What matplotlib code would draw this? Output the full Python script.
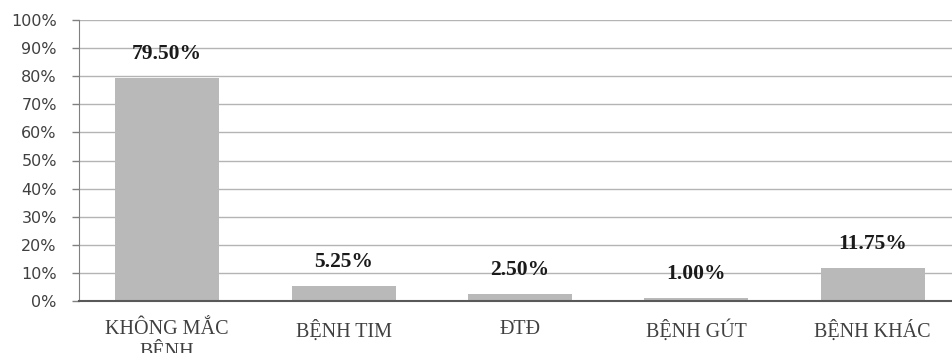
import numpy as np
import matplotlib.pyplot as plt
from matplotlib.ticker import PercentFormatter

categories = ["KHÔNG MẮC\nBỆNH", "BỆNH TIM", "ĐTĐ", "BỆNH GÚT", "BỆNH KHÁC"]
values = [79.50, 5.25, 2.50, 1.00, 11.75]
y_ticks = np.arange(0, 101, 10)

fig = plt.figure(figsize=(9.52, 3.53), dpi=100)
# axes runs a little past the right edge, like the source
ax = fig.add_axes([79 / 952, 1 - 301 / 353, 882 / 952, 281 / 353])

x = np.arange(len(categories))
ax.bar(x, values, width=0.59, color="#b9b9b9", zorder=2)

for xi, v in zip(x, values):
    ax.annotate(f"{v:.2f}%", (xi, v), xytext=(0, 10), textcoords="offset points",
                ha="center", va="bottom", fontsize=15.5, fontweight="bold",
                family="Liberation Serif", color="#1a1a1a", zorder=3)

ax.set_xlim(-0.5, 4.5)
ax.set_ylim(0, 100)
ax.set_yticks(y_ticks)
ax.yaxis.set_major_formatter(PercentFormatter(decimals=0))
ax.set_xticks(x)
ax.set_xticklabels(categories, family="Liberation Serif", fontsize=14.5,
                   color="#404040", linespacing=1.1)
ax.tick_params(axis="x", length=0, pad=14)
ax.tick_params(axis="y", length=5, width=1, color="#808080", pad=11,
               labelsize=11.5, labelcolor="#404040")

ax.grid(axis="y", color="#b4b4b4", lw=1, zorder=0)
for s in ["top", "right"]:
    ax.spines[s].set_visible(False)
ax.spines["left"].set_color("#808080")
ax.spines["bottom"].set_color("#595959")
ax.spines["bottom"].set_linewidth(1.5)

fig.savefig("out.png", dpi=100)
